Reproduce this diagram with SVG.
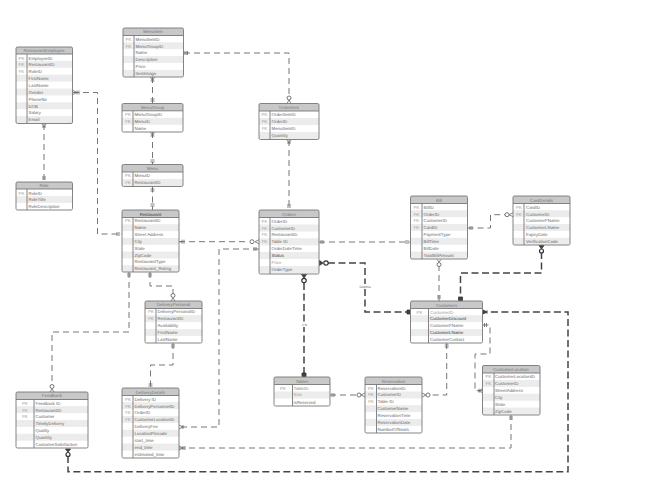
<svg xmlns="http://www.w3.org/2000/svg" width="650" height="498" viewBox="0 0 650 498">
<style>
text{font-family:"Liberation Sans",Arial,sans-serif;font-size:4.4px;fill:#666;text-rendering:geometricPrecision}
.h{text-anchor:middle;fill:#777}
.k{text-anchor:middle;fill:#999}
.f{fill:#fff;stroke:none}
.hd{fill:#c8c8c8;stroke:none}
.alt{fill:#ececec;stroke:none}
.b{fill:none;stroke:#777;stroke-width:.9}
.c{fill:none;stroke:#777;stroke-width:1;stroke-dasharray:6 4}
.t{fill:none;stroke:#444;stroke-width:1.5;stroke-dasharray:7 3.5}
.m{fill:none;stroke:#666;stroke-width:.8}
.o{fill:#fff;stroke:#666;stroke-width:.9}
.ob{fill:#fff;stroke:#333;stroke-width:1.2}
.n{fill:#444;stroke:#333;stroke-width:.8}
.s{font-size:3.2px;text-anchor:middle;fill:#666}
</style>
<rect width="650" height="498" fill="#fff"/>
<g id="connectors">
<path class="c" d="M73 92.500H97.500V234H122"/>
<path class="c" d="M44 124V182"/>
<path class="c" d="M152.500 77V103.500"/>
<path class="c" d="M152.500 132V164.500"/>
<path class="c" d="M152.500 186.500V210"/>
<path class="c" d="M184 53H289V96"/>
<path class="c" d="M289 140V210"/>
<path class="c" d="M179 241.700H248"/>
<path class="c" d="M259 249H219V427H179"/>
<path class="c" d="M179 448H511V415"/>
<path class="c" d="M150 272V286H173V296"/>
<path class="c" d="M129 272V332H52V386"/>
<path class="c" d="M173 343V365H150.500V388"/>
<path class="t" d="M68 456V471.700H568V312H483"/>
<path class="c" d="M319 242H410.500"/>
<path class="t" d="M328 263H365V312H410.500"/>
<path class="t" d="M304 283V377"/>
<path class="c" d="M467.500 228H490.500V214.700H505"/>
<path class="c" d="M439 265V301"/>
<path class="t" d="M541.500 252V273H460.500V301"/>
<path class="c" d="M446.700 343V395H430"/>
<path class="c" d="M482.500 325H490V354H475V390.700H482.500"/>
<path class="c" d="M330 395H358"/>
<path class="m" d="M73 90.500L77 92.500L73 94.500M77 90.500V94.500M79 90.500V94.500"/>
<path class="m" d="M42 124L44 127L46 124M42 127H46M42 179H46M42 177H46"/>
<path class="m" d="M150.500 77L152.500 81L154.500 77M150.500 81H154.500M150.500 101H154.500M150.500 99H154.500"/>
<path class="m" d="M150.500 132L152.500 136L154.500 132M150.500 136H154.500M150.500 162H154.500M150.500 160H154.500"/>
<path class="m" d="M150.500 189H154.500M150.500 191H154.500M150.500 206H154.500M150.500 204H154.500"/>
<path class="m" d="M119 232V236M117 232V236"/>
<path class="m" d="M184 51V55M186 51V55M187.500 51V55"/>
<path class="m" d="M287 103.500L289 100L291 103.500"/>
<circle class="o" cx="289" cy="98" r="2"/>
<path class="m" d="M287 140L289 143L291 140M287 143H291M287 207H291M287 205H291"/>
<path class="m" d="M179.500 241.700H182M182 239.700V243.700M184 239.700V243.700"/>
<circle class="o" cx="252" cy="241.700" r="2"/>
<path class="m" d="M259 239.700L255 241.700L259 243.700"/>
<path class="m" d="M256 247V251M254 247V251"/>
<path class="m" d="M179 425L183 427L179 429M183 425V429"/>
<path class="m" d="M179 446L183 448L179 450M183 446V450M185 446V450"/>
<path class="m" d="M509 417H513M509 419H513"/>
<path class="m" d="M148 274H152M148 276H152"/>
<path class="m" d="M127 274H131M127 276H131"/>
<path class="m" d="M171 301L173 298L175 301"/>
<circle class="o" cx="173" cy="295.500" r="2"/>
<path class="m" d="M50 392L52 389L54 392"/>
<circle class="o" cx="52" cy="386.500" r="2"/>
<path class="m" d="M171 345H175M171 347H175"/>
<path class="m" d="M148.500 384H152.500M148.500 386H152.500"/>
<path class="n" d="M65.500 449H70.500L68 452Z"/>
<circle class="ob" cx="68" cy="454.500" r="2"/>
<path class="n" d="M483 310L487 312L483 314Z"/><path class="m" d="M487 310V314"/>
<path class="m" d="M321 240V244M323 240V244M408 240V244M406 240V244"/>
<path class="n" d="M319.500 260.500L323 263L319.500 265.500Z"/>
<circle class="ob" cx="326" cy="263" r="2.200"/>
<path class="n" d="M407 310H410V314H407Z"/>
<path class="n" d="M301.500 274.500H306.500L304 278Z"/>
<circle class="ob" cx="304" cy="280.500" r="2.200"/>
<path class="n" d="M302 373H306V376.500H302Z"/>
<path class="m" d="M470 226V230M472 226V230"/>
<path class="m" d="M513 212.700L509 214.700L513 216.700"/>
<circle class="o" cx="507" cy="214.700" r="2"/>
<path class="m" d="M437 259.500L439 262L441 259.500"/>
<circle class="o" cx="439" cy="264.500" r="2"/>
<path class="m" d="M437 296H441M437 298H441"/>
<path class="n" d="M539 245.500H544L541.500 249Z"/>
<circle class="ob" cx="541.500" cy="251" r="2"/>
<path class="n" d="M458.500 297H462.500V300.500H458.500Z"/>
<path class="m" d="M444.700 345H448.700M444.700 347H448.700"/>
<path class="m" d="M422 393L426 395L422 397"/>
<circle class="o" cx="428" cy="395" r="2"/>
<path class="m" d="M484.500 323V327M486.500 323V327"/>
<path class="m" d="M482.500 388.700L478.500 390.700L482.500 392.700M479 388.700V392.700"/>
<path class="m" d="M332 393V397M334 393V397"/>
<path class="m" d="M365 393L361 395L365 397"/>
<circle class="o" cx="359" cy="395" r="2"/>
<rect class="f" x="359" y="284" width="12" height="5"/>
<text class="s" x="365" y="288">Submits</text>
<rect class="f" x="301" y="323" width="7" height="4"/>
<text class="s" x="304.500" y="326">1:N</text>
</g>
<g id="RestaurantEmployee">
<rect class="f" x="16" y="47" width="56.500" height="76.500" rx="1.500"/>
<rect class="hd" x="16" y="47" width="56.500" height="7" rx="1"/>
<rect class="alt" x="16" y="60.900" width="56.500" height="6.900"/><rect class="alt" x="16" y="74.700" width="56.500" height="6.900"/><rect class="alt" x="16" y="88.500" width="56.500" height="6.900"/><rect class="alt" x="16" y="102.300" width="56.500" height="6.900"/><rect class="alt" x="16" y="116.100" width="56.500" height="6.900"/>
<rect class="b" x="16" y="47" width="56.500" height="76.500" rx="1.500"/>
<path class="b" d="M16 54H72.500M27 54V123.500"/>
<text class="h" x="44" y="52.300">RestaurantEmployee</text>
<text class="k" x="21.500" y="59.500">PK</text><text x="28.500" y="59.500">EmployeeID</text>
<text class="k" x="21.500" y="66.300">FK</text><text x="28.500" y="66.300">RestaurantID</text>
<text class="k" x="21.500" y="73.200">FK</text><text x="28.500" y="73.200">RoleID</text>
<text x="28.500" y="80.100">FirstName</text>
<text x="28.500" y="87">LastName</text>
<text x="28.500" y="93.800">Gender</text>
<text x="28.500" y="100.700">PhoneNo</text>
<text x="28.500" y="107.600">DOB</text>
<text x="28.500" y="114.400">Salary</text>
<text x="28.500" y="121.300">Email</text>
</g>
<g id="Role">
<rect class="f" x="16" y="182" width="56.500" height="28" rx="1.500"/>
<rect class="hd" x="16" y="182" width="56.500" height="7" rx="1"/>
<rect class="alt" x="16" y="196" width="56.500" height="7"/>
<rect class="b" x="16" y="182" width="56.500" height="28" rx="1.500"/>
<path class="b" d="M16 189H72.500M27 189V210"/>
<text class="h" x="44" y="187.300">Role</text>
<text class="k" x="21.500" y="194.500">PK</text><text x="28.500" y="194.500">RoleID</text>
<text x="28.500" y="201.300">RoleTitle</text>
<text x="28.500" y="208.200">RoleDescription</text>
</g>
<g id="MenuItem">
<rect class="f" x="123" y="28" width="60.500" height="49" rx="1.500"/>
<rect class="hd" x="123" y="28" width="60.500" height="7.500" rx="1"/>
<rect class="alt" x="123" y="42.300" width="60.500" height="6.900"/><rect class="alt" x="123" y="56.100" width="60.500" height="6.900"/><rect class="alt" x="123" y="69.900" width="60.500" height="6.900"/>
<rect class="b" x="123" y="28" width="60.500" height="49" rx="1.500"/>
<path class="b" d="M123 35.500H183.500M134 35.500V77"/>
<text class="h" x="153" y="33.300">MenuItem</text>
<text class="k" x="128.500" y="40.600">PK</text><text x="135.500" y="40.600">MenuItemID</text>
<text class="k" x="128.500" y="47.500">FK</text><text x="135.500" y="47.500">MenuGroupID</text>
<text x="135.500" y="54.300">Name</text>
<text x="135.500" y="61">Description</text>
<text x="135.500" y="68">Price</text>
<text x="135.500" y="74.800">ItemImage</text>
</g>
<g id="MenuGroup">
<rect class="f" x="122" y="103.500" width="61" height="28.500" rx="1.500"/>
<rect class="hd" x="122" y="103.500" width="61" height="7.300" rx="1"/>
<rect class="alt" x="122" y="117.800" width="61" height="7"/>
<rect class="b" x="122" y="103.500" width="61" height="28.500" rx="1.500"/>
<path class="b" d="M122 110.800H183M133 110.800V132"/>
<text class="h" x="152.500" y="109">MenuGroup</text>
<text class="k" x="128" y="116">PK</text><text x="134.500" y="116">MenuGroupID</text>
<text class="k" x="128" y="123">FK</text><text x="134.500" y="123">MenuID</text>
<text x="134.500" y="130">Name</text>
</g>
<g id="Menu">
<rect class="f" x="122" y="164.500" width="61" height="22" rx="1.500"/>
<rect class="hd" x="122" y="164.500" width="61" height="7.500" rx="1"/>
<rect class="alt" x="122" y="179" width="61" height="7"/>
<rect class="b" x="122" y="164.500" width="61" height="22" rx="1.500"/>
<path class="b" d="M122 172H183M133 172V186.500"/>
<text class="h" x="152.500" y="170">Menu</text>
<text class="k" x="128" y="177">PK</text><text x="134.500" y="177">MenuID</text>
<text class="k" x="128" y="184">FK</text><text x="134.500" y="184">RestaurantID</text>
</g>
<g id="Restaurant">
<rect class="f" x="122" y="210" width="57" height="62" rx="1.500"/>
<rect class="hd" x="122" y="210" width="57" height="7.500" rx="1"/>
<rect class="alt" x="122" y="224.300" width="57" height="6.800"/><rect class="alt" x="122" y="238" width="57" height="6.800"/><rect class="alt" x="122" y="251.600" width="57" height="6.800"/><rect class="alt" x="122" y="265.300" width="57" height="6.500"/>
<rect class="b" x="122" y="210" width="57" height="62" rx="1.500"/>
<path class="b" d="M122 217.500H179M133 217.500V272"/>
<text class="h" x="150.500" y="215.500" style="fill:#333">Restaurant</text>
<text class="k" x="128" y="222.300">PK</text><text x="134.500" y="222.300">RestaurantID</text>
<text x="134.500" y="229.200">Name</text>
<text x="134.500" y="236">Street Address</text>
<text x="134.500" y="242.900">City</text>
<text x="134.500" y="249.700">State</text>
<text x="134.500" y="256.500">ZipCode</text>
<text x="134.500" y="263.300">RestaurantType</text>
<text x="134.500" y="270.200">Restaurant_Rating</text>
</g>
<g id="DeliveryPersonal">
<rect class="f" x="145" y="301" width="57" height="42" rx="1.500"/>
<rect class="hd" x="145" y="301" width="57" height="7.500" rx="1"/>
<rect class="alt" x="145" y="315.200" width="57" height="6.900"/><rect class="alt" x="145" y="329" width="57" height="6.900"/>
<rect class="b" x="145" y="301" width="57" height="42" rx="1.500"/>
<path class="b" d="M145 308.500H202M156 308.500V343"/>
<text class="h" x="173.500" y="306.300">DeliveryPersonal</text>
<text class="k" x="151" y="313.300">PK</text><text x="157.500" y="313.300">DeliveryPersonalID</text>
<text class="k" x="151" y="320.200">FK</text><text x="157.500" y="320.200">RestaurantID</text>
<text x="157.500" y="327">Availability</text>
<text x="157.500" y="334">FirstName</text>
<text x="157.500" y="341">LastName</text>
</g>
<g id="FeedBack">
<rect class="f" x="16" y="392" width="72" height="56" rx="1.500"/>
<rect class="hd" x="16" y="392" width="72" height="7.500" rx="1"/>
<rect class="alt" x="16" y="406.200" width="72" height="6.900"/><rect class="alt" x="16" y="420" width="72" height="6.900"/><rect class="alt" x="16" y="433.800" width="72" height="6.900"/>
<rect class="b" x="16" y="392" width="72" height="56" rx="1.500"/>
<path class="b" d="M16 399.500H88M34 399.500V448"/>
<text class="h" x="52" y="397.300">FeedBack</text>
<text class="k" x="25" y="404.500">PK</text><text x="35.500" y="404.500">Feedback ID</text>
<text class="k" x="25" y="411.500">FK</text><text x="35.500" y="411.500">RestaurantID</text>
<text class="k" x="25" y="418.300">FK</text><text x="35.500" y="418.300">Customer</text>
<text x="35.500" y="425.200">TimelyDelivery</text>
<text x="35.500" y="432">Quality</text>
<text x="35.500" y="439">Quantity</text>
<text x="35.500" y="445.800">CustomerSatisfaction</text>
</g>
<g id="DeliveryDetails">
<rect class="f" x="122" y="388" width="57" height="70" rx="1.500"/>
<rect class="hd" x="122" y="388" width="57" height="7.500" rx="1"/>
<rect class="alt" x="122" y="402.200" width="57" height="6.900"/><rect class="alt" x="122" y="416" width="57" height="6.900"/><rect class="alt" x="122" y="429.800" width="57" height="6.900"/><rect class="alt" x="122" y="443.600" width="57" height="6.900"/>
<rect class="b" x="122" y="388" width="57" height="70" rx="1.500"/>
<path class="b" d="M122 395.500H179M133 395.500V458"/>
<text class="h" x="150.500" y="393.500">DeliveryDetails</text>
<text class="k" x="128" y="400.600">PK</text><text x="134.500" y="400.600">Delivery ID</text>
<text class="k" x="128" y="407.500">FK</text><text x="134.500" y="407.500">DeliveryPersonnelID</text>
<text class="k" x="128" y="414.300">FK</text><text x="134.500" y="414.300">OrderID</text>
<text class="k" x="128" y="421.200">FK</text><text x="134.500" y="421.200">CustomerLocationID</text>
<text x="134.500" y="428">DeliveryFee</text>
<text x="134.500" y="435">LocationPincode</text>
<text x="134.500" y="441.800">start_time</text>
<text x="134.500" y="448.700">end_time</text>
<text x="134.500" y="455.500">estimated_time</text>
</g>
<g id="OrderItem">
<rect class="f" x="259" y="103.500" width="60" height="36" rx="1.500"/>
<rect class="hd" x="259" y="103.500" width="60" height="7.500" rx="1"/>
<rect class="alt" x="259" y="118" width="60" height="7"/><rect class="alt" x="259" y="132" width="60" height="7"/>
<rect class="b" x="259" y="103.500" width="60" height="36" rx="1.500"/>
<path class="b" d="M259 111H319M270 111V139.500"/>
<text class="h" x="289" y="109">OrderItem</text>
<text class="k" x="264.500" y="116">PK</text><text x="271.500" y="116">OrderItemID</text>
<text class="k" x="264.500" y="123">FK</text><text x="271.500" y="123">OrderID</text>
<text class="k" x="264.500" y="130">FK</text><text x="271.500" y="130">MenuItemID</text>
<text x="271.500" y="137">Quantity</text>
</g>
<g id="Orders">
<rect class="f" x="259" y="210" width="60" height="64" rx="1.500"/>
<rect class="hd" x="259" y="210" width="60" height="7.500" rx="1"/>
<rect class="alt" x="259" y="224.500" width="60" height="7"/><rect class="alt" x="259" y="238.300" width="60" height="7"/><rect class="alt" x="259" y="252" width="60" height="7"/><rect class="alt" x="259" y="266" width="60" height="7"/>
<rect class="b" x="259" y="210" width="60" height="64" rx="1.500"/>
<path class="b" d="M259 217.500H319M270 217.500V274"/>
<text class="h" x="289" y="215.500">Orders</text>
<text class="k" x="264.500" y="222.500">PK</text><text x="271.500" y="222.500">OrderID</text>
<text class="k" x="264.500" y="229.500">FK</text><text x="271.500" y="229.500">CustomerID</text>
<text class="k" x="264.500" y="236.300">FK</text><text x="271.500" y="236.300">RestaurantID</text>
<text class="k" x="264.500" y="243.200">FK</text><text x="271.500" y="243.200">Table ID</text>
<text x="271.500" y="250">OrderDateTime</text>
<text x="271.500" y="257" style="fill:#333">Status</text>
<text x="271.500" y="263.800" style="fill:#999">Price</text>
<text x="271.500" y="270.700">OrderType</text>
</g>
<g id="Bill">
<rect class="f" x="410.500" y="196" width="57" height="63" rx="1.500"/>
<rect class="hd" x="410.500" y="196" width="57" height="7.500" rx="1"/>
<rect class="alt" x="410.500" y="210.300" width="57" height="6.900"/><rect class="alt" x="410.500" y="224" width="57" height="6.900"/><rect class="alt" x="410.500" y="237.800" width="57" height="6.900"/><rect class="alt" x="410.500" y="251.600" width="57" height="6.900"/>
<rect class="b" x="410.500" y="196" width="57" height="63" rx="1.500"/>
<path class="b" d="M410.500 203.500H467.500M422 203.500V259"/>
<text class="h" x="439" y="201.500">Bill</text>
<text class="k" x="416.500" y="208.500">PK</text><text x="423.500" y="208.500">BillID</text>
<text class="k" x="416.500" y="215.500">FK</text><text x="423.500" y="215.500">OrderID</text>
<text class="k" x="416.500" y="222.300">FK</text><text x="423.500" y="222.300">CustomerID</text>
<text class="k" x="416.500" y="229.200">FK</text><text x="423.500" y="229.200">CardID</text>
<text x="423.500" y="236">PaymentType</text>
<text x="423.500" y="243">BillTime</text>
<text x="423.500" y="249.700">BillDate</text>
<text x="423.500" y="256.500">TotalBillAmount</text>
</g>
<g id="CardDetails">
<rect class="f" x="513" y="196" width="57" height="49" rx="1.500"/>
<rect class="hd" x="513" y="196" width="57" height="7.500" rx="1"/>
<rect class="alt" x="513" y="210.300" width="57" height="6.900"/><rect class="alt" x="513" y="224" width="57" height="6.900"/><rect class="alt" x="513" y="237.800" width="57" height="6.900"/>
<rect class="b" x="513" y="196" width="57" height="49" rx="1.500"/>
<path class="b" d="M513 203.500H570M524 203.500V245"/>
<text class="h" x="541.500" y="201.500">CardDetails</text>
<text class="k" x="519" y="208.500">PK</text><text x="526" y="208.500">CardID</text>
<text class="k" x="519" y="215.500">FK</text><text x="526" y="215.500">CustomerID</text>
<text x="526" y="222.300">CustomerFName</text>
<text x="526" y="229">CustomerLName</text>
<text x="526" y="236">ExpiryDate</text>
<text x="526" y="243">VerificationCode</text>
</g>
<g id="Customers">
<rect class="f" x="410.500" y="301" width="72" height="42" rx="1.500"/>
<rect class="hd" x="410.500" y="301" width="72" height="7.500" rx="1"/>
<rect class="alt" x="410.500" y="315.200" width="72" height="6.900"/><rect class="alt" x="410.500" y="329" width="72" height="6.900"/>
<rect class="b" x="410.500" y="301" width="72" height="42" rx="1.500"/>
<path class="b" d="M410.500 308.500H482.500M428.500 308.500V343"/>
<text class="h" x="446.500" y="306.500">Customers</text>
<text class="k" x="419.500" y="313.500">PK</text><text x="430" y="313.500" style="fill:#999">CustomerID</text>
<text x="430" y="320.300" style="fill:#333">CustomerDiscount</text>
<text x="430" y="327.200">CustomerFName</text>
<text x="430" y="334" style="fill:#333">CustomerLName</text>
<text x="430" y="341">CustomerContact</text>
</g>
<g id="Tables">
<rect class="f" x="274" y="377" width="56" height="29" rx="1.500"/>
<rect class="hd" x="274" y="377" width="56" height="7.500" rx="1"/>
<rect class="alt" x="274" y="391.500" width="56" height="7"/>
<rect class="b" x="274" y="377" width="56" height="29" rx="1.500"/>
<path class="b" d="M274 384.500H330M292.500 384.500V406"/>
<text class="h" x="302" y="382.500">Tables</text>
<text class="k" x="283" y="389.500">PK</text><text x="293.500" y="389.500" style="fill:#888">TableID</text>
<text x="293.500" y="396.300" style="fill:#999">Size</text>
<text x="293.500" y="403.500">isReserved</text>
</g>
<g id="Reservation">
<rect class="f" x="365" y="377" width="57" height="56" rx="1.500"/>
<rect class="hd" x="365" y="377" width="57" height="7.500" rx="1"/>
<rect class="alt" x="365" y="391.500" width="57" height="6.900"/><rect class="alt" x="365" y="405.200" width="57" height="6.900"/><rect class="alt" x="365" y="419" width="57" height="6.900"/>
<rect class="b" x="365" y="377" width="57" height="56" rx="1.500"/>
<path class="b" d="M365 384.500H422M376.500 384.500V433"/>
<text class="h" x="393.500" y="382.500">Reservation</text>
<text class="k" x="371" y="389.500">PK</text><text x="377.500" y="389.500">ReservationID</text>
<text class="k" x="371" y="396.300">FK</text><text x="377.500" y="396.300">CustomerID</text>
<text class="k" x="371" y="403.200">FK</text><text x="377.500" y="403.200">Table ID</text>
<text x="377.500" y="410">CustomerName</text>
<text x="377.500" y="417">ReservationTime</text>
<text x="377.500" y="423.700">ReservationDate</text>
<text x="377.500" y="430.500">NumberOfSeats</text>
</g>
<g id="CustomerLocation">
<rect class="f" x="482.500" y="365.500" width="57.500" height="49.500" rx="1.500"/>
<rect class="hd" x="482.500" y="365.500" width="57.500" height="7.500" rx="1"/>
<rect class="alt" x="482.500" y="380" width="57.500" height="6.900"/><rect class="alt" x="482.500" y="393.800" width="57.500" height="6.900"/><rect class="alt" x="482.500" y="407.600" width="57.500" height="6.900"/>
<rect class="b" x="482.500" y="365.500" width="57.500" height="49.500" rx="1.500"/>
<path class="b" d="M482.500 373H540M494 373V415"/>
<text class="h" x="511" y="371">CustomerLocation</text>
<text class="k" x="488.500" y="378">PK</text><text x="495" y="378">CustomerLocationID</text>
<text class="k" x="488.500" y="385">FK</text><text x="495" y="385">CustomerID</text>
<text x="495" y="392">StreetAddress</text>
<text x="495" y="398.800">City</text>
<text x="495" y="405.500">State</text>
<text x="495" y="412.500">ZipCode</text>
</g>
</svg>
